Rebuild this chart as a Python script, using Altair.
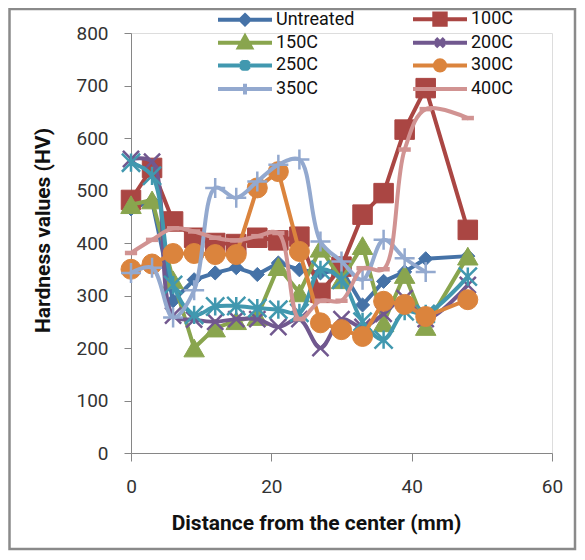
import altair as alt
import pandas as pd

# ---------------- data ----------------
positions = [0, 3, 6, 9, 12, 15, 18, 21, 24, 27, 30, 33, 36, 39, 42, 48]
series_names = ["Untreated", "100C", "150C", "200C", "250C", "300C", "350C", "400C"]

untreated = [465, 480, 290, 330, 343, 353, 340, 362, 349, 343, 349, 282, 327, 345, 370, 375]
c100 = [482, 543, 441, 410, 400, 398, 410, 405, 412, 305, 355, 454, 495, 616, 695, 425]
c150 = [473, 482, 330, 200, 238, 252, 260, 355, 305, 390, 330, 395, 248, 340, 241, 375]
c200 = [560, 555, 262, 254, 250, 255, 255, 240, 255, 200, 255, 240, 265, 295, 255, 320]
c250 = [553, 528, 320, 263, 279, 280, 276, 273, 267, 349, 330, 250, 216, 270, 265, 336]
c300 = [350, 360, 380, 380, 378, 378, 505, 536, 384, 248, 235, 222, 289, 283, 260, 292]
c350 = [343, 353, 258, 310, 505, 486, 517, 549, 559, 403, 365, 330, 406, 371, 345]
c400 = [381, 406, 428, 422, 410, 405, 413, 419, 255, 290, 290, 352, 350, 578, 655, 638]

all_values = [untreated, c100, c150, c200, c250, c300, c350, c400]
colors = ["#4572A7", "#AA4643", "#89A54E", "#71588F", "#4198AF", "#DB843D", "#93A9CF", "#D19392"]
smooth_series = ["200C", "250C", "350C", "400C"]

rows = []
for name, vals in zip(series_names, all_values):
    for d, v in zip(positions, vals):
        rows.append({"series": name, "distance": d, "hv": v})
df = pd.DataFrame(rows)

# marker styles: (shape, size, filled, strokeWidth)
X_PATH = "M-1,-1L1,1M-1,1L1,-1"
STAR_PATH = "M-1,-1L1,1M-1,1L1,-1M0,-1L0,1"
PLUS_PATH = "M-1,0L1,0M0,-1L0,1"
DASH_PATH = "M-1,0L1,0"
markers = {
    "Untreated": ("diamond", 200, True, 1),
    "100C": ("square", 380, True, 1),
    "150C": ("triangle-up", 420, True, 1),
    "200C": (X_PATH, 260, False, 2.5),
    "250C": (STAR_PATH, 330, False, 2.5),
    "300C": ("circle", 400, True, 1),
    "350C": (PLUS_PATH, 400, False, 2.5),
    "400C": (DASH_PATH, 150, False, 4.5),
}

# legend symbols: line plus marker (units of 6 px)
LINE = "M-4.5,0H4.5"
legend_paths = [
    LINE + "M0,-0.75L0.75,0L0,0.75L-0.75,0Z",
    LINE + "M-0.95,-0.95H0.95V0.95H-0.95Z",
    LINE + "M0,-1L1,0.8H-1Z",
    LINE + "M-0.7,-0.7L0.7,0.7M-0.7,0.7L0.7,-0.7",
    LINE + "M-0.7,-0.7L0.7,0.7M-0.7,0.7L0.7,-0.7M0,-0.9L0,0.9",
    LINE + "M-0.85,0A0.85,0.85 0 1,0 0.85,0A0.85,0.85 0 1,0 -0.85,0Z",
    LINE + "M0,-0.9L0,0.9",
    LINE,
]

FONT = "Roboto"
AXIS_COLOR = "#868686"
TEXT_COLOR = "#333333"

x_axis = alt.Axis(
    values=[0, 20, 40, 60], title="Distance from the center (mm)", grid=False,
    domainColor=AXIS_COLOR, tickColor=AXIS_COLOR, tickSize=8, labelFontSize=19,
    labelColor=TEXT_COLOR, labelPadding=16, labelFont=FONT, titleFont=FONT,
    titleFontSize=21, titleFontWeight="bold", titleColor="#111111",
    titleX=185, titleY=70, titleAlign="center", titleBaseline="middle",
    labelFlush=False,
)
y_axis = alt.Axis(
    values=list(range(0, 801, 100)), title="Hardness values (HV)", grid=False,
    domainColor=AXIS_COLOR, tickColor=AXIS_COLOR, tickSize=7, labelFontSize=19,
    labelColor=TEXT_COLOR, labelPadding=16, labelFont=FONT, titleFont=FONT,
    titleFontSize=21, titleFontWeight="bold", titleColor="#111111",
    titleX=-88, titleY=197, titleAngle=270, titleAlign="center", titleBaseline="middle",
)

xenc = alt.X("distance:Q", scale=alt.Scale(domain=[0, 60], nice=False, zero=False), axis=x_axis)
yenc = alt.Y("hv:Q", scale=alt.Scale(domain=[0, 800], nice=False), axis=y_axis)

base = alt.Chart(df)
layers = []
for name, col in zip(series_names, colors):
    interp = "catmull-rom" if name in smooth_series else "linear"
    line = base.transform_filter(alt.datum.series == name).mark_line(
        color=col, strokeWidth=4, interpolate=interp, strokeJoin="round", strokeCap="round"
    ).encode(x=xenc, y=yenc, order="distance:Q")
    shape, size, filled, sw = markers[name]
    if filled:
        pts = base.transform_filter(alt.datum.series == name).mark_point(
            shape=shape, size=size, filled=True, color=col, opacity=1, stroke=col, strokeWidth=sw
        ).encode(x=xenc, y=yenc)
    else:
        pts = base.transform_filter(alt.datum.series == name).mark_point(
            shape=shape, size=size, filled=False, color=col, opacity=1, strokeWidth=sw
        ).encode(x=xenc, y=yenc)
    layers += [line, pts]

legend_props = dict(
    orient="none", legendX=105, legendY=-23, columns=2, direction="horizontal", title=None,
    labelFont=FONT, labelFontSize=18, labelColor="#111111", labelOffset=22,
    symbolSize=144, symbolStrokeWidth=4, columnPadding=50, rowPadding=-4.3,
    padding=0, labelLimit=200,
)
legend_layer = base.transform_filter("datum.hv < -1").mark_point(opacity=1, strokeWidth=4).encode(
    x=xenc, y=yenc,
    shape=alt.Shape("series:N", scale=alt.Scale(domain=series_names, range=legend_paths),
                    legend=alt.Legend(**legend_props)),
    fill=alt.Fill("series:N", scale=alt.Scale(domain=series_names, range=colors),
                  legend=alt.Legend(**legend_props)),
    stroke=alt.Stroke("series:N", scale=alt.Scale(domain=series_names, range=colors),
                      legend=alt.Legend(**legend_props)),
)

frame = alt.Chart(alt.Data(values=[{"k": 1}])).mark_rect(
    fill=None, stroke="#8a8a8a", strokeWidth=2.5, clip=False
).encode(x=alt.value(-121.5), x2=alt.value(444), y=alt.value(-24), y2=alt.value(516))

chart = alt.layer(*layers, legend_layer, frame).properties(
    width=421, height=420,
    autosize=alt.AutoSizeParams(type="none"),
    padding={"left": 123, "top": 25, "right": 25, "bottom": 99},
).configure_view(stroke=None).configure(background="white")

chart.save("out.html", embed_options={"renderer": "svg", "actions": False})
